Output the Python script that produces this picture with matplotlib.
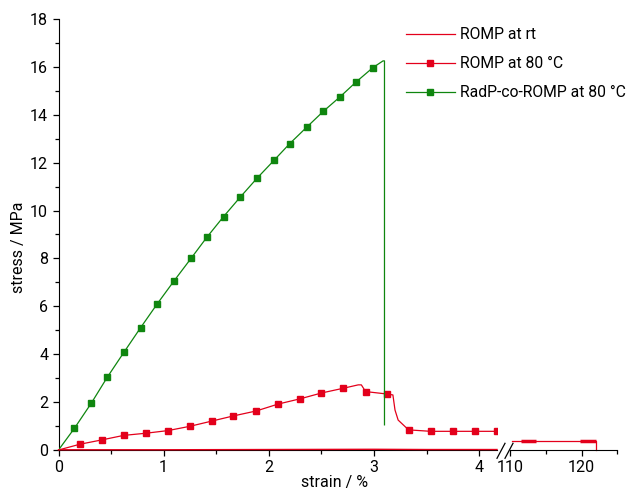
import matplotlib.pyplot as plt
from matplotlib.lines import Line2D
import numpy as np

plt.rcParams['font.family'] = ['Roboto', 'DejaVu Sans']

# RadP-co-ROMP at 80 °C
green_x = [0, 0.152, 0.311, 0.464, 0.622, 0.781, 0.94, 1.10, 1.26, 1.41, 1.57,
           1.73, 1.89, 2.05, 2.20, 2.36, 2.52, 2.68, 2.83, 2.99, 3.086, 3.10, 3.10]
green_y = [0, 0.91, 1.95, 3.04, 4.08, 5.11, 6.11, 7.07, 8.00, 8.88, 9.75,
           10.57, 11.36, 12.10, 12.80, 13.48, 14.15, 14.76, 15.37, 15.97, 16.25, 16.25, 1.05]
green_marks = list(range(1, 20))

# ROMP at 80 °C (0-4 % part)
red_x = [0, 0.203, 0.41, 0.62, 0.83, 1.04, 1.25, 1.46, 1.66, 1.88, 2.09, 2.30, 2.50,
         2.71, 2.85, 2.88, 2.92, 3.12, 3.18, 3.20, 3.23, 3.30, 3.33, 3.54, 3.75, 3.96, 4.17]
red_y = [0, 0.24, 0.42, 0.61, 0.70, 0.81, 0.99, 1.21, 1.42, 1.63, 1.92, 2.14, 2.38,
         2.58, 2.72, 2.72, 2.44, 2.34, 2.30, 1.67, 1.25, 0.96, 0.84, 0.78, 0.78, 0.78, 0.78]
red_marks = list(range(1, 14)) + [16, 17, 22, 23, 24, 25, 26]

# ROMP at 80 °C (tail after the axis break)
tail_x = [110.3, 122.0, 122.0]
tail_y = [0.37, 0.37, 0.0]
tail_thick_x = [111.5, 113.7, np.nan, 119.8, 122.0]
tail_thick_y = [0.37, 0.37, np.nan, 0.37, 0.37]

# ROMP at rt
rt_x = [0, 1.0, 2.0, 3.0, 3.5, 4.17]
rt_y = [0.01, 0.01, 0.02, 0.03, 0.02, 0.02]

labels = ['ROMP at rt', 'ROMP at 80 °C', 'RadP-co-ROMP at 80 °C']

RED = '#e3001b'
GREEN = '#0f860f'

fig = plt.figure(figsize=(6.29, 4.9), dpi=100)
ax1 = fig.add_axes([58.5 / 629, 40 / 490, (497 - 58.5) / 629, 431 / 490])
ax2 = fig.add_axes([510 / 629, 40 / 490, (617.3 - 510) / 629, 431 / 490])

ax1.plot(rt_x, rt_y, color=RED, lw=1.0, zorder=4, clip_on=False)
ax1.plot(red_x, red_y, color=RED, lw=0.9, marker='s', ms=5, mec=RED, mfc=RED,
         markevery=red_marks, zorder=3)
ax1.plot(green_x, green_y, color=GREEN, lw=0.9, marker='s', ms=5, mec=GREEN,
         mfc=GREEN, markevery=green_marks, zorder=3)

ax2.plot(tail_x, tail_y, color=RED, lw=0.9, clip_on=False)
ax2.plot(tail_thick_x, tail_thick_y, color=RED, lw=2.5, solid_capstyle='butt')

ax1.set_xlim(0, 4.17)
ax1.set_ylim(0, 18)
ax2.set_xlim(110, 125)
ax2.set_ylim(0, 18)

ax1.set_xticks([0, 1, 2, 3, 4])
ax1.set_xticks([0.5, 1.5, 2.5, 3.5], minor=True)
ax1.set_yticks(range(0, 19, 2))
ax1.set_yticks(range(1, 18, 2), minor=True)
ax2.set_xticks([110, 120])
ax2.set_xticks([115, 125], minor=True)
ax2.set_yticks([])

for ax in (ax1, ax2):
    ax.spines['top'].set_visible(False)
    ax.spines['right'].set_visible(False)
    ax.tick_params(which='major', direction='out', length=4.5, width=0.9,
                   labelsize=11.5, pad=3)
    ax.tick_params(which='minor', direction='out', length=3, width=0.9)
ax2.spines['left'].set_visible(False)

# axis break marks
for x0 in (497, 505):
    fig.add_artist(Line2D([x0 / 629, (x0 + 8) / 629],
                          [(490 - 458.3) / 490, (490 - 443.3) / 490],
                          color='k', lw=0.9))

fig.text(19 / 629, (490 - 247) / 490, 'stress / MPa', rotation=90,
         ha='center', va='center', fontsize=11.5)
fig.text(335 / 629, (490 - 475) / 490, 'strain / %', ha='center', va='top',
         fontsize=11.5)

handles = [
    Line2D([], [], color=RED, lw=0.9),
    Line2D([], [], color=RED, lw=0.9, marker='s', ms=5),
    Line2D([], [], color=GREEN, lw=0.9, marker='s', ms=5),
]
fig.legend(handles, labels, loc='upper left',
           bbox_to_anchor=(406 / 629, (490 - 27) / 490), frameon=False,
           fontsize=11.3, handlelength=3.1, handletextpad=0.34,
           labelspacing=0.9, borderpad=0, borderaxespad=0)

fig.savefig('out.png', dpi=100)
